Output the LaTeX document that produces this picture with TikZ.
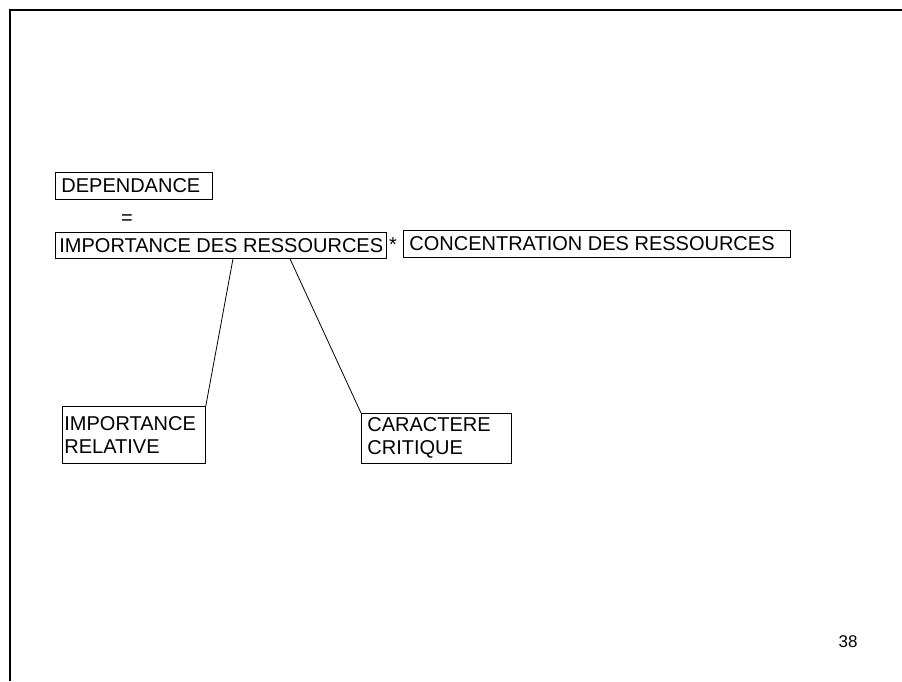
\documentclass[tikz,border=0pt]{standalone}
\usepackage{fontspec}
\setmainfont{Liberation Sans}
\begin{document}
\begin{tikzpicture}[x=1pt,y=-1pt,
  txt/.style={font=\fontsize{20}{23}\selectfont},
  box/.style={txt, draw, line width=0.8pt, anchor=north west, inner xsep=0pt, inner ysep=0pt, align=left},
  conn/.style={line width=0.8pt}]
\useasboundingbox (0,0) rectangle (902,681);
\fill[white] (0,0) rectangle (902,681);
\draw[line width=2.6pt] (902,10) -- (10,10) -- (10,681);
% single line boxes
\node[box, minimum width=157pt, minimum height=27pt] (dep) at (55,172) {\hspace*{6pt}\makebox[151pt][l]{DEPENDANCE}};
\node[txt, anchor=base, inner sep=0pt] (eq) at (127,224) {=};
\node[box, minimum width=331pt, minimum height=26pt] (imp) at (55,232) {\hspace*{4pt}\makebox[327pt][l]{IMPORTANCE DES RESSOURCES}};
\node[txt, anchor=base west, inner sep=0pt] (star) at (389,251) {*};
\node[box, minimum width=387pt, minimum height=27pt] (conc) at (403,230) {\hspace*{6pt}\makebox[381pt][l]{CONCENTRATION DES RESSOURCES}};
% two line boxes
\node[box] (rel) at (62,406) {\parbox[c][57pt][c]{143pt}{\hspace*{2pt}IMPORTANCE\\\hspace*{2pt}RELATIVE}};
\node[box] (crit) at (361,413) {\parbox[c][50pt][t]{150pt}{\vspace*{4pt}\hspace*{6pt}CARACTERE\\\hspace*{6pt}CRITIQUE}};
% connectors
\draw[conn] ([xshift=178pt]imp.south west) -- (rel.north east);
\draw[conn] ([xshift=235pt]imp.south west) -- (crit.north west);
% page number
\node[font=\fontsize{17}{20}\selectfont, inner sep=0pt] (pg) at (848,642) {38};
\end{tikzpicture}
\end{document}
